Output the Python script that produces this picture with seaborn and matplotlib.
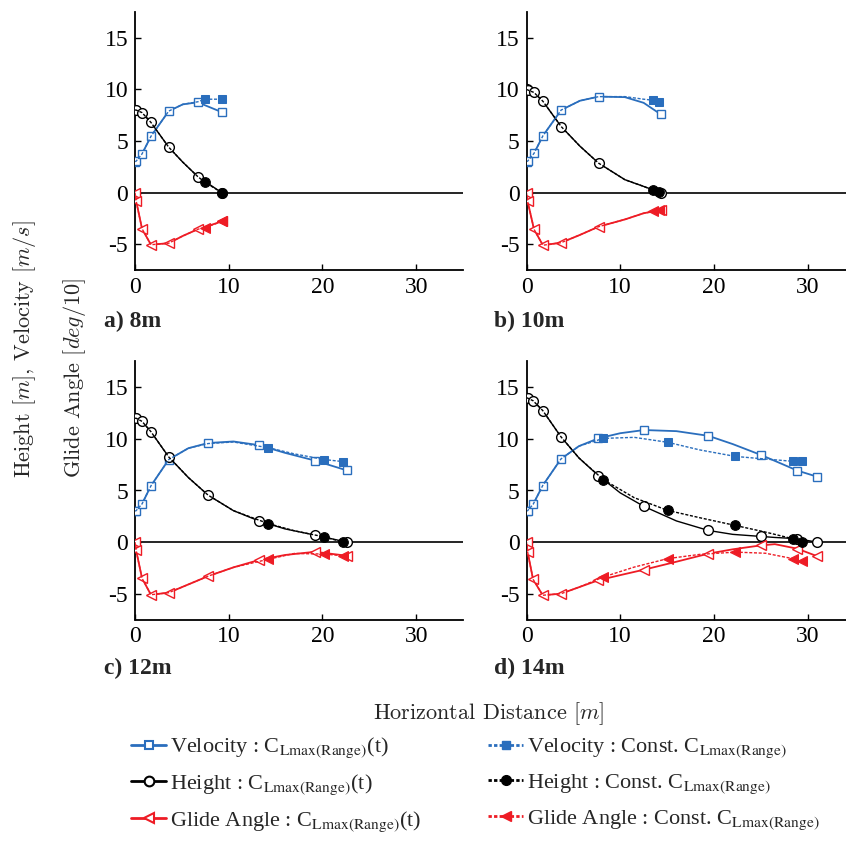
import numpy as np
import pandas as pd
import matplotlib
matplotlib.use("Agg")
import matplotlib.pyplot as plt
import seaborn as sns
from matplotlib.lines import Line2D
from matplotlib import font_manager

# ---------------- data ----------------
panel_labels = ["a) 8m", "b) 10m", "c) 12m", "d) 14m"]

# panel a (8 m) : C_Lmax(Range)(t)
a_x      = [0, 0.12, 0.75, 1.7, 3.6, 5.1, 6.7, 9.25]
a_vel    = [3.0, 3.05, 3.75, 5.45, 7.9, 8.55, 8.75, 7.8]
a_height = [8.0, 8.0, 7.75, 6.8, 4.4, 2.95, 1.55, 0.0]
a_glide  = [0.0, -0.8, -3.5, -5.05, -4.9, -4.2, -3.55, -2.8]
a_marks  = [0, 1, 2, 3, 4, 6, 7]
# panel a : Const. C_Lmax(Range)
a_cx      = [0, 0.12, 0.75, 1.7, 3.6, 5.1, 6.7, 7.47, 9.25]
a_cvel    = [3.0, 3.05, 3.75, 5.45, 7.9, 8.55, 8.8, 9.05, 9.05]
a_cheight = [8.0, 8.0, 7.75, 6.8, 4.4, 2.95, 1.55, 1.0, 0.0]
a_cglide  = [0.0, -0.8, -3.5, -5.05, -4.9, -4.2, -3.55, -3.4, -2.8]
a_cmarks  = [7, 8]

# panel b (10 m)
b_x      = [0, 0.12, 0.8, 1.75, 3.7, 5.7, 7.7, 10.5, 12.5, 14.3]
b_vel    = [3.0, 3.05, 3.8, 5.5, 8.0, 8.9, 9.3, 9.25, 8.7, 7.6]
b_height = [10.0, 9.95, 9.7, 8.85, 6.4, 4.5, 2.85, 1.25, 0.6, 0.0]
b_glide  = [0.0, -0.85, -3.55, -5.1, -4.85, -4.1, -3.3, -2.6, -2.0, -1.7]
b_marks  = [0, 1, 2, 3, 4, 6, 9]
b_cx      = [0, 0.12, 0.8, 1.75, 3.7, 5.7, 7.7, 10.5, 12.5, 13.5, 14.1]
b_cvel    = [3.0, 3.05, 3.8, 5.5, 8.0, 8.9, 9.3, 9.3, 9.05, 8.95, 8.8]
b_cheight = [10.0, 9.95, 9.7, 8.85, 6.4, 4.5, 2.85, 1.25, 0.6, 0.25, 0.1]
b_cglide  = [0.0, -0.85, -3.55, -5.1, -4.85, -4.1, -3.3, -2.6, -2.0, -1.83, -1.72]
b_cmarks  = [9, 10]

# panel c (12 m)
c_x      = [0, 0.12, 0.75, 1.7, 3.6, 5.7, 7.8, 10.5, 13.2, 16.0, 19.2, 22.6]
c_vel    = [3.0, 3.05, 3.7, 5.45, 8.0, 9.1, 9.6, 9.75, 9.4, 8.65, 7.9, 6.95]
c_height = [12.0, 12.0, 11.7, 10.7, 8.25, 6.25, 4.55, 3.05, 2.06, 1.28, 0.68, 0.0]
c_glide  = [0.0, -0.8, -3.5, -5.1, -4.9, -4.1, -3.3, -2.45, -1.74, -1.25, -0.94, -1.32]
c_marks  = [0, 1, 2, 3, 4, 6, 8, 10, 11]
c_cx      = [0, 0.12, 0.75, 1.7, 3.6, 5.7, 7.8, 10.5, 14.2, 17.0, 20.2, 22.2]
c_cvel    = [3.0, 3.05, 3.7, 5.45, 8.0, 9.1, 9.55, 9.7, 9.15, 8.55, 8.0, 7.8]
c_cheight = [12.0, 12.0, 11.7, 10.7, 8.25, 6.25, 4.55, 3.05, 1.8, 1.1, 0.5, 0.0]
c_cglide  = [0.0, -0.8, -3.5, -5.1, -4.9, -4.1, -3.3, -2.45, -1.67, -1.1, -1.16, -1.32]
c_cmarks  = [8, 10, 11]

# panel d (14 m)
d_x      = [0, 0.12, 0.7, 1.73, 3.68, 5.6, 7.66, 10.0, 12.55, 16.0, 19.4, 22.0, 25.0, 26.5, 28.9, 30.97]
d_vel    = [3.0, 3.05, 3.65, 5.48, 8.06, 9.3, 10.05, 10.55, 10.86, 10.75, 10.3, 9.5, 8.45, 7.87, 6.93, 6.35]
d_height = [14.0, 13.95, 13.7, 12.75, 10.2, 8.15, 6.45, 4.77, 3.45, 2.05, 1.13, 0.75, 0.55, 0.45, 0.33, 0.0]
d_glide  = [0.0, -0.97, -3.6, -5.15, -5.0, -4.37, -3.7, -3.2, -2.67, -1.9, -1.12, -0.7, -0.32, -0.2, -0.64, -1.35]
d_marks  = [0, 1, 2, 3, 4, 6, 8, 10, 12, 14, 15]
d_cx      = [0, 0.12, 0.7, 1.73, 3.68, 5.6, 8.2, 11.5, 15.07, 18.5, 22.3, 25.5, 28.4, 29.4]
d_cvel    = [3.0, 3.05, 3.65, 5.48, 8.06, 9.3, 10.05, 10.15, 9.67, 8.93, 8.3, 8.05, 7.83, 7.83]
d_cheight = [14.0, 13.95, 13.7, 12.75, 10.2, 8.15, 6.05, 4.3, 3.07, 2.36, 1.61, 0.97, 0.33, 0.0]
d_cglide  = [0.0, -0.97, -3.6, -5.15, -5.0, -4.37, -3.38, -2.42, -1.6, -1.19, -0.97, -1.08, -1.6, -1.83]
d_cmarks  = [6, 8, 10, 12, 13]

x_ticks = [0, 10, 20, 30]
y_ticks = [-5, 0, 5, 10, 15]
y_tick_labels = ["-5", "0", "5", "10", "15"]

legend_labels = [
    r"Velocity : C$_{\mathrm{Lmax(Range)}}$(t)",
    r"Height : C$_{\mathrm{Lmax(Range)}}$(t)",
    r"Glide Angle : C$_{\mathrm{Lmax(Range)}}$(t)",
    r"Velocity : Const. C$_{\mathrm{Lmax(Range)}}$",
    r"Height : Const. C$_{\mathrm{Lmax(Range)}}$",
    r"Glide Angle : Const. C$_{\mathrm{Lmax(Range)}}$",
]

panels = [
    (a_x, a_vel, a_height, a_glide, a_marks, a_cx, a_cvel, a_cheight, a_cglide, a_cmarks),
    (b_x, b_vel, b_height, b_glide, b_marks, b_cx, b_cvel, b_cheight, b_cglide, b_cmarks),
    (c_x, c_vel, c_height, c_glide, c_marks, c_cx, c_cvel, c_cheight, c_cglide, c_cmarks),
    (d_x, d_vel, d_height, d_glide, d_marks, d_cx, d_cvel, d_cheight, d_cglide, d_cmarks),
]

# ---------------- fonts ----------------
for f in font_manager.findSystemFonts():
    if "liberation" in f.lower():
        try:
            font_manager.fontManager.addfont(f)
        except Exception:
            pass
serif_name = "Liberation Serif"
try:
    font_manager.findfont(serif_name, fallback_to_default=False)
except Exception:
    serif_name = "DejaVu Serif"

# ---------------- style ----------------
sns.set_style("ticks")
plt.rcParams["font.family"] = "serif"
plt.rcParams["font.serif"] = [serif_name, "DejaVu Serif"]
plt.rcParams["mathtext.fontset"] = "stix"

BLUE = "#2a6ebd"
BLACK = "#000000"
RED = "#ee1c25"
DASH = (0, (2.2, 1.2))
series_style = [
    dict(color=BLUE, marker="s", ms=6, lw=1.3),
    dict(color=BLACK, marker="o", ms=7, lw=1.0),
    dict(color=RED, marker="<", ms=7.5, lw=1.3),
]

W, H = 846, 847
fig = plt.figure(figsize=(W / 100, H / 100), dpi=100)

ax_w = 328 / W
ax_h = 258 / H
lefts = [135 / W, 526.5 / W, 135 / W, 526.5 / W]
bottoms = [1 - 270 / H, 1 - 270 / H, 1 - 619.5 / H, 1 - 619.5 / H]
label_pos = [(104, 321), (494, 321), (104, 668), (494, 668)]

for i, p in enumerate(panels):
    x, vel, hgt, gld, mk, cx, cvel, chgt, cgld, cmk = p
    ax = fig.add_axes([lefts[i], bottoms[i], ax_w, ax_h])
    ax.axhline(0, color="black", lw=1.2, zorder=1)
    for ys, st in zip([vel, hgt, gld], series_style):
        df = pd.DataFrame({"x": x, "y": ys})
        sns.lineplot(data=df, x="x", y="y", ax=ax, sort=False, estimator=None,
                     color=st["color"], lw=st["lw"], marker=st["marker"], ms=st["ms"],
                     markerfacecolor="white", markeredgecolor=st["color"],
                     markeredgewidth=1.0, markevery=mk, zorder=3, legend=False)
    for ys, st in zip([cvel, chgt, cgld], series_style):
        df = pd.DataFrame({"x": cx, "y": ys})
        sns.lineplot(data=df, x="x", y="y", ax=ax, sort=False, estimator=None,
                     color=st["color"], lw=1.0, linestyle=DASH, marker=st["marker"],
                     ms=st["ms"], markerfacecolor=st["color"], markeredgecolor=st["color"],
                     markevery=cmk, zorder=4, legend=False)
    ax.set_xlim(0, 35)
    ax.set_ylim(-7.5, 17.5)
    ax.set_xticks(x_ticks)
    ax.set_xticklabels([str(t) for t in x_ticks])
    ax.set_yticks(y_ticks)
    ax.set_yticklabels(y_tick_labels)
    ax.set_xlabel("")
    ax.set_ylabel("")
    ax.tick_params(direction="in", length=4, width=1, labelsize=17, pad=5, colors="black")
    for s in ["top", "right"]:
        ax.spines[s].set_visible(False)
    for s in ["left", "bottom"]:
        ax.spines[s].set_linewidth(1.3)
        ax.spines[s].set_color("black")
    ax.set_facecolor("none")
    lx, ly = label_pos[i]
    fig.text(lx / W, 1 - ly / H, panel_labels[i], fontsize=17, fontweight="bold",
             ha="left", va="center")

# axis labels (Computer Modern look)
t1 = fig.text(24 / W, 1 - 478 / H, r"Height [$m$], Velocity [$m/s$]", rotation=90,
              rotation_mode="anchor", ha="left", va="center", fontsize=16,
              family="cmr10")
t1.set_math_fontfamily("cm")
t2 = fig.text(74 / W, 1 - 478 / H, r"Glide Angle [$deg/10$]", rotation=90,
              rotation_mode="anchor", ha="left", va="center", fontsize=16,
              family="cmr10")
t2.set_math_fontfamily("cm")
t3 = fig.text(489 / W, 1 - 714 / H, r"Horizontal Distance [$m$]", ha="center",
              va="center", fontsize=16, family="cmr10")
t3.set_math_fontfamily("cm")

# legend
handles = []
for st in series_style:
    handles.append(Line2D([], [], color=st["color"], lw=2, marker=st["marker"], ms=st["ms"],
                          markerfacecolor="white", markeredgecolor=st["color"],
                          markeredgewidth=1.5))
for st in series_style:
    handles.append(Line2D([], [], color=st["color"], lw=2, linestyle=(0, (1.2, 0.8)),
                          marker=st["marker"], ms=st["ms"], markerfacecolor=st["color"],
                          markeredgecolor=st["color"]))
leg = fig.legend(handles, legend_labels, loc="upper left",
                 bbox_to_anchor=(122 / W, 1 - 727 / H), ncol=2, frameon=False,
                 fontsize=16, handlelength=1.6, handletextpad=0.15,
                 columnspacing=3.0, labelspacing=0.55, borderaxespad=0)
for t in leg.get_texts():
    t.set_math_fontfamily("stix")

fig.savefig("out.png", dpi=100)
